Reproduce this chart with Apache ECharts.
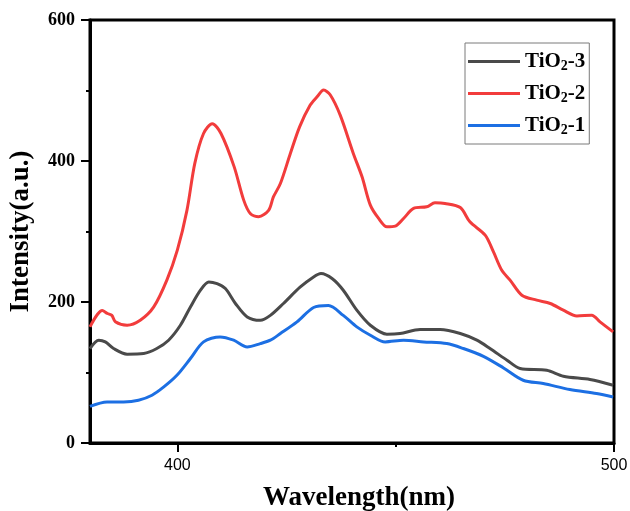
<!DOCTYPE html>
<html><head><meta charset="utf-8">
<script src="https://cdn.jsdelivr.net/npm/echarts@6/dist/echarts.min.js"></script>
<style>html,body{margin:0;padding:0;background:#fff}#c{width:630px;height:511px}</style>
</head><body><div id="c"></div>
<script>
const names = ['TiO2-3', 'TiO2-2', 'TiO2-1'];
const colors = ['#4a4a4a', '#f23c3c', '#1c6fe3'];
const xTicks = [400, 500];
const yTicks = [0, 200, 400, 600];

const x3 = [380,382,383.5,385.4,388.5,392.3,395.3,398,400.7,403,405.3,407.2,409.1,411,413.3,416,419,421.3,424.3,428.1,431.2,432.9,435.5,438,441.1,444.2,448,451,455.6,460.2,464.8,468.6,471.6,475.5,478.5,484.6,488.4,494.5,499.8];
const y3 = [134,145.8,143.4,134,126,126.9,134,145.8,167,193,216.8,228.5,226,219,197.9,178.8,174,181,197.9,221,235.6,240.4,233,216.7,188.4,167,154.3,155.3,161,161,155.3,145.8,134,117.4,105.6,103.2,94.7,90,82];

const x2 = [380,382.8,384,385,385.8,388.5,391.5,394.6,397.6,400,402.2,404,406,408,410,413,415.2,416.7,418.6,420.9,422,423.6,425.9,428,430.4,432,433.5,435,437.3,440.3,442.3,444.2,446.1,448,449.9,451.8,454.1,457.1,459,461.3,464.8,467,470.5,472.4,474.3,476.2,478.9,482.3,485.4,488.4,491.5,494.9,496.8,499.8];
const y2 = [164.7,188,183.7,181,172,167,174,193,231,273.5,330,396.6,439,453,439,392,344.5,325.6,321,330,349,368,411,448.5,479,491,500.6,494,465,410.8,377.6,337.4,318.5,306.6,307.6,318.5,332.7,335,340.7,339.8,334,313.7,294.8,271,245,231,209.6,202.6,197.9,188.4,180.3,181.3,171.8,157.6];

const x1 = [380,383.9,387.7,391.1,394.2,396.9,399.9,403,406,409.8,412.9,416,419,421.3,423.6,427.4,431.2,434.6,438,441.1,444.2,447.6,451.8,456.4,461.7,465.5,470.1,474.7,479.2,483.8,489.9,496,499.8];
const y1 = [52,58.3,58.3,60.6,67.7,79.5,96,119.8,143.4,150.5,145.8,136.3,141,145.8,155.3,171.8,192.2,195,181,164.7,152.9,143.4,145.8,143.4,141,134,123,106.5,89,84.3,75.8,70.1,65.3];

const pairs = (xs, ys) => xs.map((x, i) => [x, ys[i]]);
const dataSets = [pairs(x3, y3), pairs(x2, y2), pairs(x1, y1)];

const serif = 'Liberation Serif, Times New Roman, serif';
const chart = echarts.init(document.getElementById('c'), null, {renderer: 'canvas'});
chart.setOption({
  animation: false,
  backgroundColor: '#fff',
  grid: {left: 90, right: 16, top: 20, bottom: 68, containLabel: false, outerBoundsMode: 'none',
    show: true, borderColor: '#000', borderWidth: 3, backgroundColor: 'transparent'},
  legend: {
    orient: 'vertical', left: 465, top: 43,
    padding: [8, 4, 7, 3], itemGap: 10, itemWidth: 52, itemHeight: 3,
    icon: 'rect',
    borderColor: '#7a7a7a', borderWidth: 1,
    data: names,
    formatter: n => '{b|TiO}{s|2}{b|' + n.slice(4) + '}',
    textStyle: {
      rich: {
        b: {fontFamily: serif, fontWeight: 'bold', fontSize: 21, color: '#000'},
        s: {fontFamily: serif, fontWeight: 'bold', fontSize: 14, color: '#000', padding: [9, 0, 0, 0]}
      }
    }
  },
  xAxis: [{
    type: 'value', min: 380, max: 500,
    name: 'Wavelength(nm)', nameLocation: 'middle', nameGap: 42,
    nameTextStyle: {fontFamily: serif, fontWeight: 'bold', fontSize: 27, color: '#000', padding: [0, 0, 0, 14]},
    axisLine: {show: true, lineStyle: {color: '#000', width: 3}},
    axisTick: {show: true, customValues: xTicks, length: 9, lineStyle: {color: '#000', width: 2}},
    axisLabel: {customValues: xTicks, margin: 15, fontFamily: 'Liberation Sans, Arial, sans-serif', fontSize: 16, color: '#000'},
    splitLine: {show: false}
  }, {
    type: 'value', min: 380, max: 500, position: 'bottom',
    axisLine: {show: false},
    axisTick: {show: true, customValues: [450], length: 4, lineStyle: {color: '#000', width: 2}},
    axisLabel: {show: false},
    splitLine: {show: false}
  }],
  yAxis: {
    type: 'value', min: 0, max: 600, interval: 200,
    name: 'Intensity(a.u.)', nameLocation: 'middle', nameGap: 55,
    nameTextStyle: {fontFamily: serif, fontWeight: 'bold', fontSize: 27, color: '#000'},
    axisLine: {show: true, lineStyle: {color: '#000', width: 3}},
    axisTick: {show: true, length: 9, lineStyle: {color: '#000', width: 2}},
    minorTick: {show: true, splitNumber: 2, length: 4, lineStyle: {color: '#000', width: 2}},
    axisLabel: {margin: 15, fontFamily: serif, fontWeight: 'bold', fontSize: 18, color: '#000',
      customValues: yTicks},
    splitLine: {show: false}
  },
  series: names.map((n, i) => ({
    name: n, type: 'line', data: dataSets[i], symbol: 'none', smooth: 0.3,
    lineStyle: {color: colors[i], width: 3}, itemStyle: {color: colors[i]},
    clip: true
  }))
});
</script></body></html>
